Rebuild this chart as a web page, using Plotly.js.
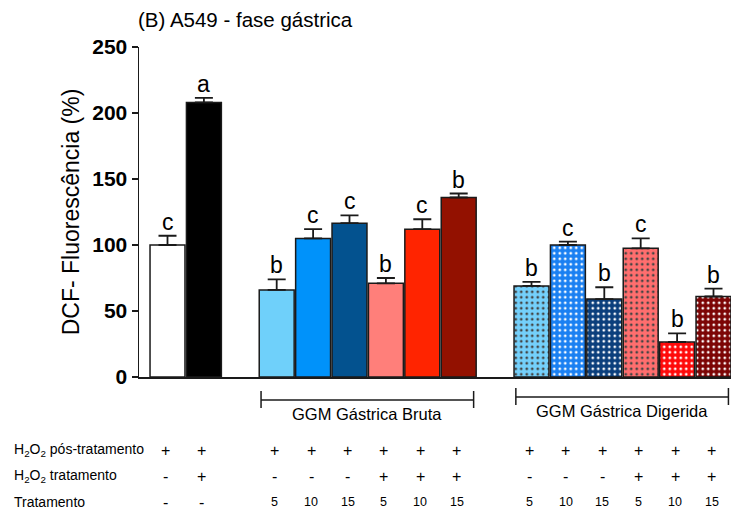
<!DOCTYPE html>
<html><head><meta charset="utf-8">
<script src="https://cdn.plot.ly/plotly-3.0.1.min.js"></script>
<style>html,body{margin:0;padding:0;background:#fff}#chart{width:733px;height:515px}</style>
</head><body><div id="chart"></div>
<script>
// ---- data ----
const groups = ['Controle', 'Controle', 'Bruta', 'Bruta', 'Bruta', 'Bruta', 'Bruta', 'Bruta',
                'Digerida', 'Digerida', 'Digerida', 'Digerida', 'Digerida', 'Digerida'];
const values = [100, 208, 66, 105, 116.5, 71, 112, 136, 69, 100, 59, 97.5, 26.5, 61];
const errors = [7, 3.5, 8, 7, 6, 4, 7.5, 3, 3, 2.5, 9, 7.5, 6.5, 6];
const letters = ['c', 'a', 'b', 'c', 'c', 'b', 'c', 'b', 'b', 'c', 'b', 'c', 'b', 'b'];
const posTratamento = ['+', '+', '+', '+', '+', '+', '+', '+', '+', '+', '+', '+', '+', '+'];
const h2o2Tratamento = ['-', '+', '-', '-', '-', '+', '+', '+', '-', '-', '-', '+', '+', '+'];
const tratamento = ['-', '-', '5', '10', '15', '5', '10', '15', '5', '10', '15', '5', '10', '15'];
const rowLabels = ['H<sub>2</sub>O<sub>2</sub> pós-tratamento', 'H<sub>2</sub>O<sub>2</sub> tratamento', 'Tratamento'];
const groupLabels = {Bruta: 'GGM Gástrica Bruta', Digerida: 'GGM Gástrica Digerida'};
const colors = ['#ffffff', '#000000', '#6fd0fa', '#0092fa', '#03528f', '#ff7f7a', '#ff2400', '#931100',
                '#74d0fb', '#1a80f2', '#0b3f7c', '#ff6e6e', '#ff0a0a', '#7c0505'];

// ---- positions (one empty slot between groups) ----
const xpos = [];
let p = 0;
groups.forEach((g, i) => { if (i > 0 && g !== groups[i - 1]) p += 1; xpos.push(p); p += 1; });

const FONT = 'Liberation Sans, Arial, sans-serif';
const PLOT_TOP = 47, PLOT_BOT = 377;
const py = v => (PLOT_BOT - v) / (PLOT_BOT - PLOT_TOP); // pixel y -> paper
const PLOT_L = 139, PLOT_W = 592;
const px = v => (v - PLOT_L) / PLOT_W;

function pick(arr, idx) { return idx.map(i => arr[i]); }
const plainIdx = groups.map((g, i) => i).filter(i => groups[i] !== 'Digerida');
const dotIdx = groups.map((g, i) => i).filter(i => groups[i] === 'Digerida');

function barTrace(idx, pattern) {
  const t = {
    type: 'bar', x: pick(xpos, idx), y: pick(values, idx), width: 0.96,
    marker: {color: pick(colors, idx), line: {color: '#1a1a1a', width: 1.5}},
    error_y: {type: 'data', symmetric: false, array: pick(errors, idx), arrayminus: idx.map(() => 0),
              color: '#1a1a1a', thickness: 1.8, width: 9},
    hoverinfo: 'skip', showlegend: false
  };
  if (pattern) t.marker.pattern = {shape: '.', fillmode: 'overlay', fgcolor: '#ffffff', fgopacity: 1,
                                   bgcolor: pick(colors, idx), size: 5.5, solidity: 0.2};
  return t;
}
const data = [barTrace(plainIdx, false), barTrace(dotIdx, true)];

const annotations = [];
// significance letters
values.forEach((v, i) => annotations.push({
  x: xpos[i], y: v + errors[i], xref: 'x', yref: 'y', text: letters[i], showarrow: false,
  yanchor: 'bottom', yshift: -1, font: {family: FONT, size: 23, color: '#000'}
}));
// table rows
const rows = [posTratamento, h2o2Tratamento, tratamento];
const rowY = [450, 476, 502];
rows.forEach((row, r) => {
  annotations.push({x: px(12), y: py(rowY[r]), xref: 'paper', yref: 'paper', text: rowLabels[r],
    showarrow: false, xanchor: 'left', yanchor: 'middle', font: {family: FONT, size: 14, color: '#000'}});
  row.forEach((s, i) => annotations.push({
    x: xpos[i], y: py(rowY[r]), xref: 'x', yref: 'paper', text: s, showarrow: false,
    xanchor: 'center', yanchor: 'middle', xshift: -2,
    font: {family: FONT, size: (r === 2 && s !== '-') ? 12.5 : 16, color: '#000'}
  }));
});
// group brackets
const shapes = [];
const bracketY = {Bruta: 400, Digerida: 397};
const labelY = {Bruta: 414, Digerida: 411};
Object.keys(groupLabels).forEach(g => {
  const ps = xpos.filter((x, i) => groups[i] === g);
  const x0 = Math.min(...ps) - 0.43, x1 = Math.max(...ps) + 0.41;
  const yb = py(bracketY[g]);
  const line = {color: '#1a1a1a', width: 1.5};
  shapes.push({type: 'line', xref: 'x', yref: 'paper', x0: x0, x1: x1, y0: yb, y1: yb, line: line});
  shapes.push({type: 'line', xref: 'x', yref: 'paper', x0: x0, x1: x0, y0: py(bracketY[g] - 9), y1: py(bracketY[g] + 8), line: line});
  shapes.push({type: 'line', xref: 'x', yref: 'paper', x0: x1, x1: x1, y0: py(bracketY[g] - 9), y1: py(bracketY[g] + 8), line: line});
  annotations.push({x: (x0 + x1) / 2, y: py(labelY[g]), xref: 'x', yref: 'paper', text: groupLabels[g],
    showarrow: false, xanchor: 'center', yanchor: 'middle', font: {family: FONT, size: 16.5, color: '#000'}});
});

const layout = {
  width: 733, height: 515,
  margin: {l: PLOT_L, r: 733 - PLOT_L - PLOT_W, t: PLOT_TOP, b: 515 - PLOT_BOT},
  paper_bgcolor: '#fff', plot_bgcolor: '#fff',
  title: {text: '(B) A549 - fase gástrica', x: 138 / 733, xref: 'container', xanchor: 'left',
          y: 1 - 20 / 515, yref: 'container', yanchor: 'middle', font: {family: FONT, size: 20.5, color: '#000'}},
  xaxis: {range: [-0.783, -0.783 + PLOT_W / 36.4], showline: true, linecolor: '#1a1a1a', linewidth: 1.5,
          showticklabels: false, ticks: '', showgrid: false, zeroline: false, fixedrange: true},
  yaxis: {range: [0, 250], dtick: 50, showline: true, linecolor: '#1a1a1a', linewidth: 1.5,
          ticks: 'outside', ticklen: 6, tickwidth: 1.5, tickcolor: '#1a1a1a', showgrid: false, zeroline: false,
          tickfont: {family: FONT, size: 21, color: '#000', weight: 'bold'},
          title: {text: 'DCF- Fluorescência (%)', standoff: 6, font: {family: FONT, size: 23, color: '#000'}}},
  bargap: 0, annotations: annotations, shapes: shapes
};
Plotly.newPlot('chart', data, layout, {displayModeBar: false, staticPlot: true});
</script></body></html>
